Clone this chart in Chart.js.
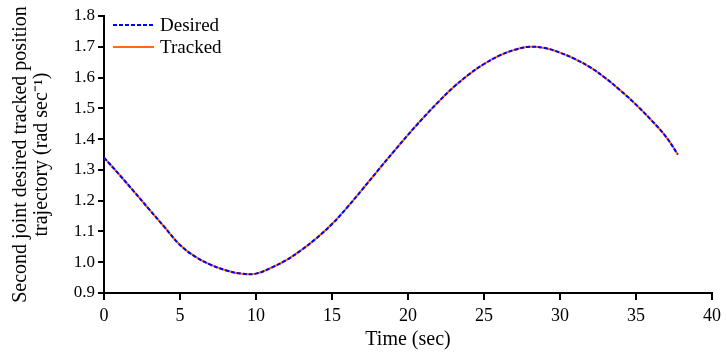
<!DOCTYPE html>
<html>
<head>
<meta charset="utf-8">
<script src="https://cdn.jsdelivr.net/npm/chart.js@4.4.0/dist/chart.umd.min.js"></script>
<style>
html,body{margin:0;padding:0;background:#fff;}
#wrap{width:727px;height:356px;position:relative;}
</style>
</head>
<body>
<div id="wrap"><canvas id="c" width="727" height="356"></canvas></div>
<script>
const timeSec = [0,1,2,3,4,5,6,7,8,9,10,11,12,13,14,15,16,17,18,19,20,21,22,23,24,25,26,27,28,29,30,31,32,33,34,35,36,37,37.75];
const desired = [1.34,1.285,1.228,1.17,1.113,1.056,1.018,0.992,0.974,0.963,0.963,0.982,1.007,1.04,1.079,1.124,1.178,1.237,1.297,1.356,1.414,1.469,1.521,1.569,1.61,1.644,1.671,1.69,1.70,1.696,1.681,1.66,1.633,1.598,1.557,1.512,1.462,1.406,1.35];
const tracked = [1.34,1.285,1.228,1.17,1.113,1.056,1.018,0.992,0.974,0.963,0.963,0.982,1.007,1.04,1.079,1.124,1.178,1.237,1.297,1.356,1.414,1.469,1.521,1.569,1.61,1.644,1.671,1.69,1.70,1.696,1.681,1.66,1.633,1.598,1.557,1.512,1.462,1.406,1.35];
const seriesNames = ["Desired","Tracked"];
const xTicks = [0,5,10,15,20,25,30,35,40];
const yTicks = [0.9,1.0,1.1,1.2,1.3,1.4,1.5,1.6,1.7,1.8];
const xTitle = "Time (sec)";
const yTitle = ["Second joint desired tracked position","trajectory (rad sec\u207B\u00B9)"];

const FONT = "'Liberation Serif','Times New Roman',serif";

const legendPlugin = {
  id:'insideLegend',
  afterDraw(chart){
    const ctx = chart.ctx;
    const a = chart.chartArea;
    const order = [1,0];
    ctx.save();
    ctx.font = "19px " + FONT;
    ctx.textBaseline = 'middle';
    order.forEach((di, i) => {
      const ds = chart.data.datasets[di];
      const y = a.top + 9 + i*22;
      ctx.beginPath();
      ctx.strokeStyle = ds.borderColor;
      ctx.lineWidth = 2;
      ctx.setLineDash(ds.borderDash || []);
      ctx.moveTo(a.left + 9, y);
      ctx.lineTo(a.left + 50, y);
      ctx.stroke();
      ctx.setLineDash([]);
      ctx.fillStyle = '#000';
      ctx.fillText(ds.label, a.left + 56, y + 1);
    });
    ctx.restore();
  }
};

new Chart(document.getElementById('c'), {
  type:'line',
  data:{
    datasets:[
      {label:seriesNames[1], data:timeSec.map((t,i)=>({x:t,y:tracked[i]})), borderColor:'#ff6a13', borderWidth:2, pointRadius:0, tension:0.4, order:2},
      {label:seriesNames[0], data:timeSec.map((t,i)=>({x:t,y:desired[i]})), borderColor:'#0000ff', borderWidth:2, borderDash:[4,2], pointRadius:0, tension:0.4, order:1}
    ]
  },
  options:{
    responsive:false,
    animation:false,
    layout:{padding:{top:16,right:15,left:6,bottom:0}},
    plugins:{legend:{display:false}, tooltip:{enabled:false}},
    scales:{
      x:{
        type:'linear', min:0, max:40,
        afterBuildTicks(s){ s.ticks = xTicks.map(v=>({value:v})); },
        afterFit(s){ s.height = 63; },
        border:{display:true,color:'#000',width:2},
        grid:{display:true,drawOnChartArea:false,drawTicks:true,tickLength:7,color:'#000',lineWidth:2},
        ticks:{color:'#000',font:{family:FONT,size:18},padding:5,maxRotation:0},
        title:{display:true,text:xTitle,color:'#000',font:{family:FONT,size:20},padding:{top:0}}
      },
      y:{
        type:'linear', min:0.9, max:1.8,
        afterBuildTicks(s){ s.ticks = yTicks.map(v=>({value:v})); },
        afterFit(s){ s.width = 98; },
        border:{display:true,color:'#000',width:2},
        grid:{display:true,drawOnChartArea:false,drawTicks:true,tickLength:6,color:'#000',lineWidth:2},
        ticks:{color:'#000',font:{family:FONT,size:17},padding:3,callback:v=>Number(v).toFixed(1)},
        title:{display:true,text:yTitle,color:'#000',font:{family:FONT,size:20,lineHeight:1.05},padding:{bottom:0}}
      }
    }
  },
  plugins:[legendPlugin]
});
</script>
</body>
</html>
